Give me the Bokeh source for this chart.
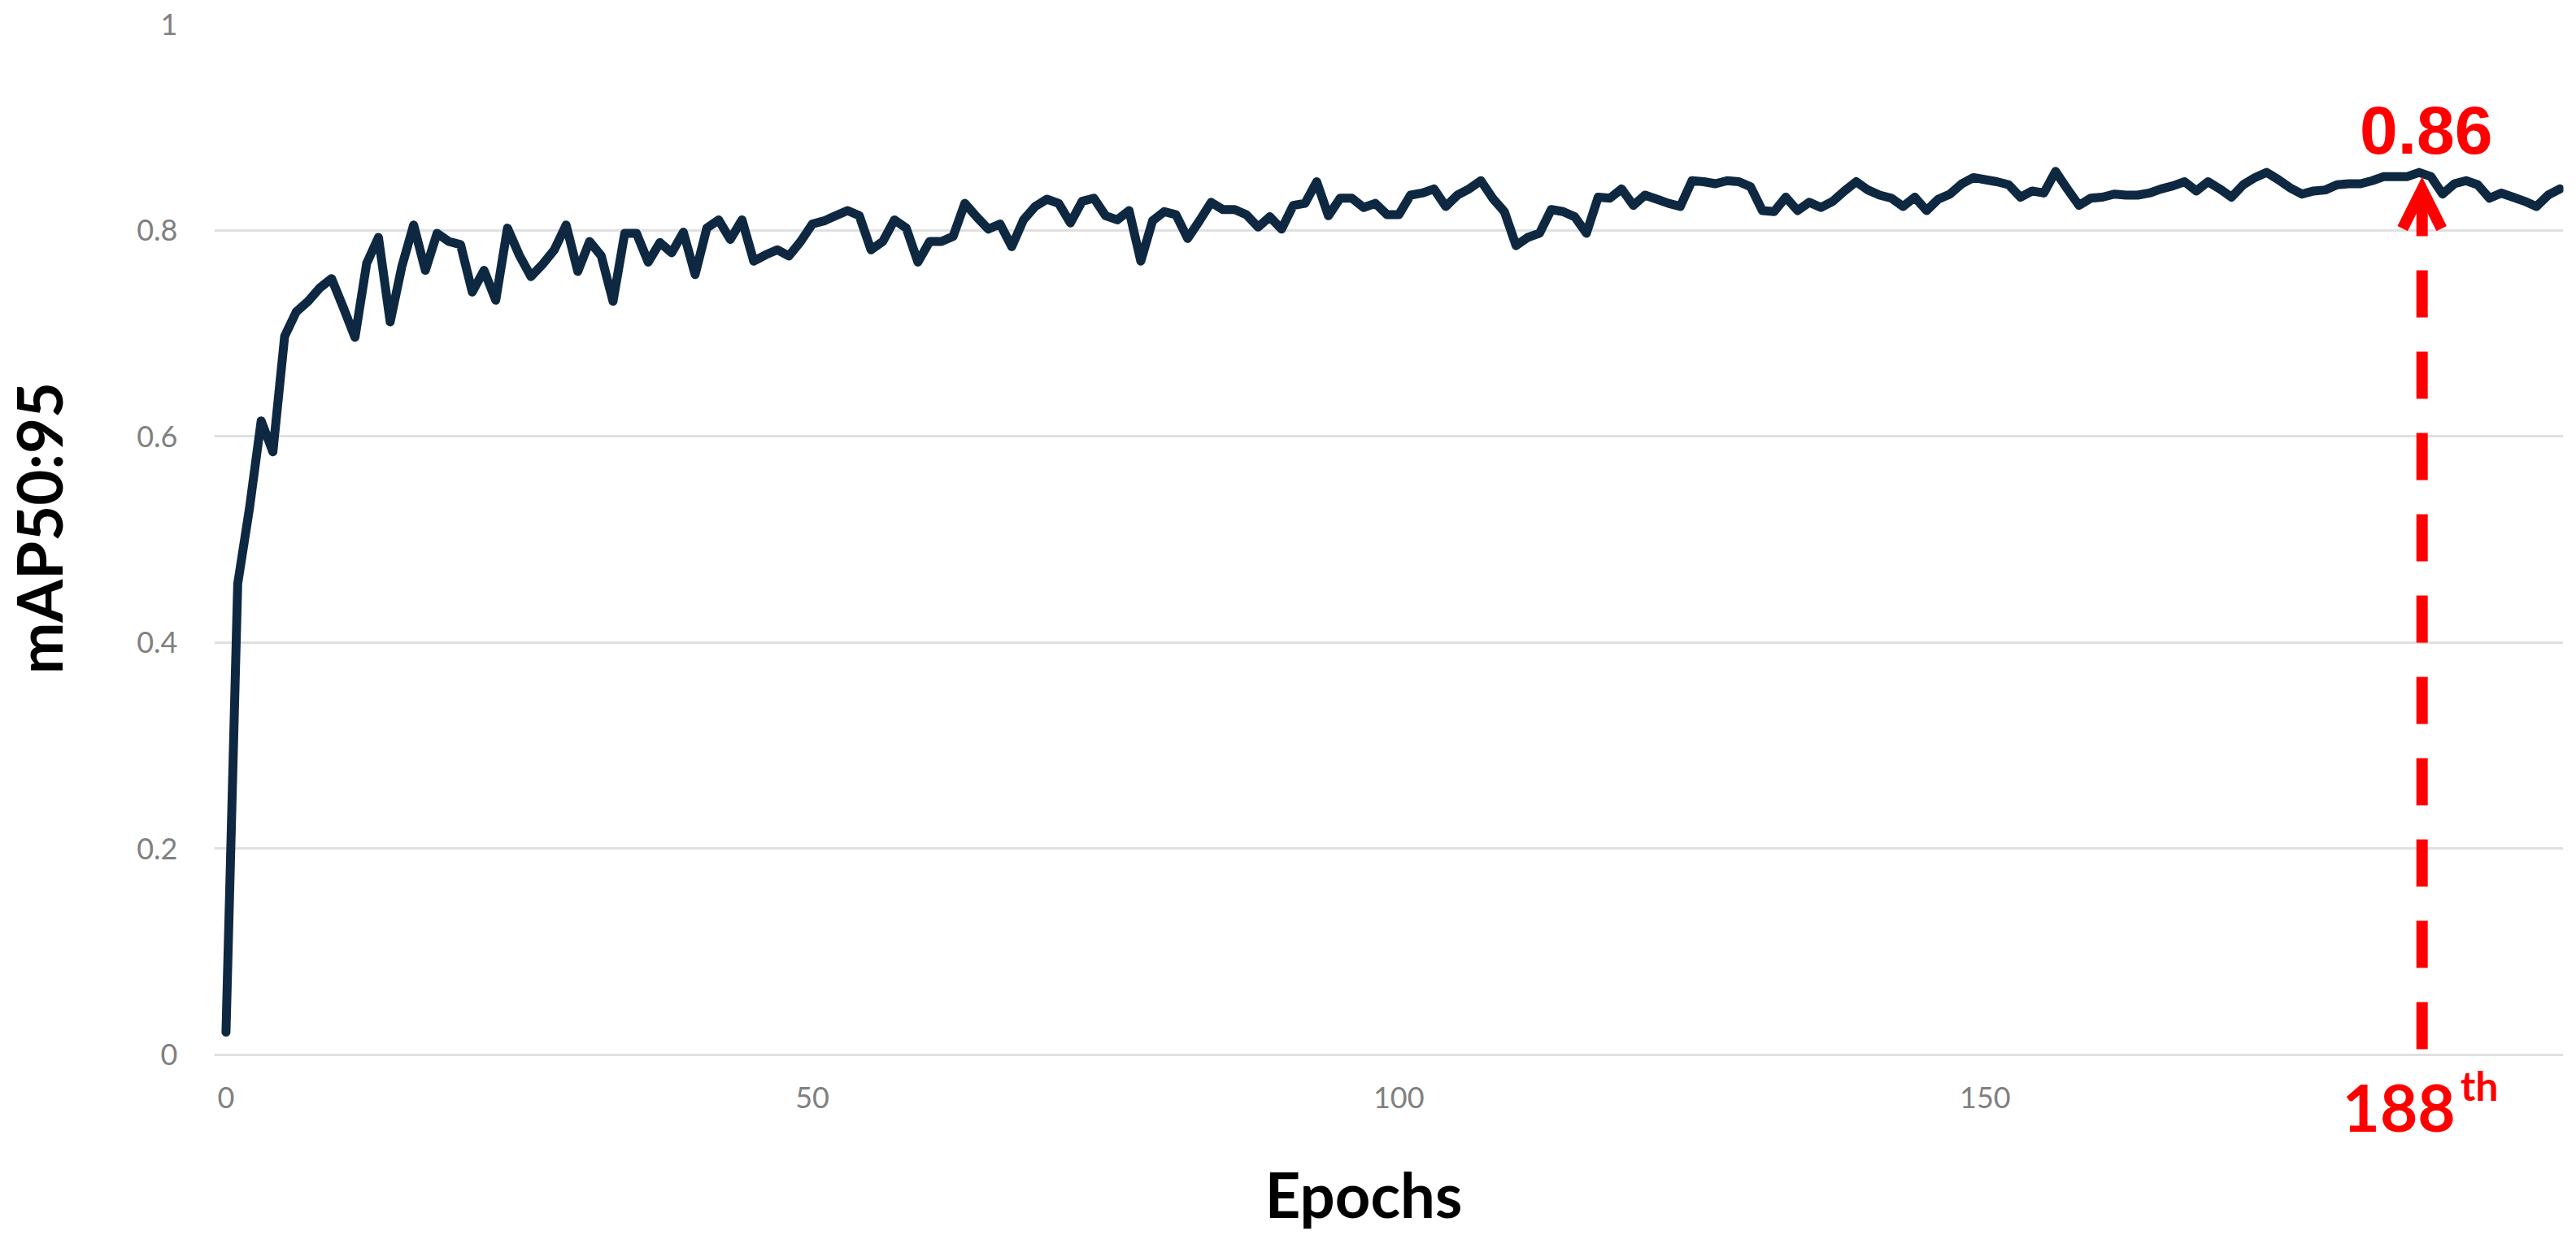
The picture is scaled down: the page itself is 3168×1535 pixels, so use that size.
import math
from bokeh.plotting import figure
from bokeh.layouts import row
from bokeh.models import FixedTicker, Label, Arrow, OpenHead, Range1d
from bokeh.embed import file_html
from bokeh.resources import INLINE

# ---------------- data ----------------
epochs = list(range(200))
map50_95 = [
    0.022, 0.457, 0.530, 0.615, 0.585, 0.697, 0.721, 0.731, 0.744, 0.753,
    0.725, 0.696, 0.768, 0.793, 0.711, 0.765, 0.805, 0.761, 0.797, 0.789,
    0.786, 0.740, 0.761, 0.732, 0.802, 0.776, 0.755, 0.767, 0.781, 0.805,
    0.760, 0.789, 0.775, 0.731, 0.797, 0.797, 0.769, 0.788, 0.778, 0.798,
    0.757, 0.802, 0.810, 0.791, 0.810, 0.770, 0.776, 0.781, 0.775, 0.789,
    0.806, 0.809, 0.814, 0.819, 0.814, 0.781, 0.789, 0.810, 0.802, 0.769,
    0.789, 0.789, 0.794, 0.826, 0.813, 0.801, 0.806, 0.784, 0.810, 0.823,
    0.830, 0.826, 0.807, 0.828, 0.831, 0.814, 0.810, 0.819, 0.770, 0.809,
    0.818, 0.815, 0.792, 0.809, 0.827, 0.820, 0.820, 0.815, 0.803, 0.813,
    0.801, 0.824, 0.826, 0.847, 0.814, 0.831, 0.831, 0.822, 0.826, 0.815,
    0.815, 0.834, 0.836, 0.840, 0.823, 0.834, 0.840, 0.848, 0.831, 0.818,
    0.785, 0.793, 0.797, 0.820, 0.818, 0.813, 0.797, 0.832, 0.831, 0.840,
    0.824, 0.834, 0.830, 0.826, 0.823, 0.848, 0.847, 0.845, 0.848, 0.847,
    0.842, 0.819, 0.818, 0.832, 0.819, 0.827, 0.822, 0.828, 0.838, 0.847,
    0.839, 0.834, 0.831, 0.823, 0.832, 0.819, 0.830, 0.835, 0.845, 0.851,
    0.849, 0.847, 0.844, 0.832, 0.838, 0.836, 0.857, 0.840, 0.824, 0.831,
    0.832, 0.835, 0.834, 0.834, 0.836, 0.840, 0.843, 0.847, 0.838, 0.847,
    0.840, 0.832, 0.844, 0.851, 0.856, 0.849, 0.841, 0.835, 0.838, 0.839,
    0.844, 0.845, 0.845, 0.848, 0.852, 0.852, 0.852, 0.856, 0.852, 0.835,
    0.845, 0.848, 0.844, 0.831, 0.836, 0.832, 0.828, 0.823, 0.834, 0.840,
]
x_ticks = [0, 50, 100, 150]
y_ticks = [0, 0.2, 0.4, 0.6, 0.8, 1.0]
y_tick_labels = ["0", "0.2", "0.4", "0.6", "0.8", "1"]
x_title = "Epochs"
y_title = "mAP50:95"
best_value_text = "0.86"
best_epoch_text = "188"
best_epoch_suffix = "th"
arrow_x = 187.25
arrow_top = 0.8394
arrow_bottom = 0.0055

FIG_H = 1530
LEFT_W = 120

# ---------------- y-title strip ----------------
left = figure(
    width=LEFT_W, height=FIG_H,
    x_range=Range1d(0, LEFT_W), y_range=Range1d(0, FIG_H),
    output_backend="svg", toolbar_location=None,
    x_axis_type=None, y_axis_type=None, min_border=0,
)
left.outline_line_color = None
left.grid.visible = False
left.add_layout(Label(
    x=47, y=FIG_H - 632, text=y_title, angle=math.pi / 2,
    text_align="center", text_baseline="middle",
    text_font="Lato", text_font_style="bold",
    text_font_size="76px", text_color="black",
))

# ---------------- main figure ----------------
# frame runs down to the bottom of the canvas so the annotation below the
# x axis stays inside it; the x axis is pinned at y = 0
p = figure(
    width=3160 - LEFT_W, height=FIG_H,
    x_range=Range1d(-1, 199.3), y_range=Range1d(-0.1838, 1),
    output_backend="svg", toolbar_location=None,
    min_border_left=263 - LEFT_W, min_border_right=8,
    min_border_top=29, min_border_bottom=0,
)
p.outline_line_color = None
p.background_fill_color = "white"
p.border_fill_color = "white"

p.xgrid.visible = False
p.ygrid.grid_line_color = "#e0e0e0"
p.ygrid.grid_line_width = 3

p.xaxis.ticker = FixedTicker(ticks=x_ticks)
p.yaxis.ticker = FixedTicker(ticks=y_ticks)
p.yaxis.major_label_overrides = dict(zip(y_ticks, y_tick_labels))
p.xaxis.fixed_location = 0
p.xaxis.bounds = (-1, 195)

for ax in (p.xaxis, p.yaxis):
    ax.axis_line_color = None
    ax.major_tick_line_color = None
    ax.minor_tick_line_color = None
    ax.major_label_text_font = "Lato"
    ax.major_label_text_font_size = "36px"
    ax.major_label_text_color = "#808080"
    ax.axis_label_text_font = "Lato"
    ax.axis_label_text_font_style = "bold"
    ax.axis_label_text_font_size = "76px"
    ax.axis_label_text_color = "black"

p.xaxis.axis_label = x_title
p.xaxis.major_label_standoff = 34
p.yaxis.major_label_standoff = 39
p.xaxis.axis_label_standoff = 56

p.line(epochs, map50_95, line_color="#0e2841", line_width=11,
       line_join="round", line_cap="round")

# ---------------- annotation ----------------
p.add_layout(Arrow(
    end=OpenHead(size=48, line_color="#ff0000", line_width=14, line_join="miter"),
    x_start=arrow_x, y_start=arrow_bottom, x_end=arrow_x, y_end=arrow_top,
    line_color="#ff0000", line_width=14, line_dash="58 42",
))
p.add_layout(Label(
    x=arrow_x, y=0.8971, text=best_value_text, x_offset=5,
    text_align="center", text_baseline="alphabetic",
    text_font="Liberation Sans", text_font_style="bold",
    text_font_size="84px", text_color="#ff0000",
))
p.add_layout(Label(
    x=arrow_x, y=-0.0516, text=best_epoch_text, x_offset=41,
    text_align="right", text_baseline="alphabetic",
    text_font="Lato", text_font_style="bold",
    text_font_size="80px", text_color="#ff0000",
))
p.add_layout(Label(
    x=arrow_x, y=-0.0296, text=best_epoch_suffix, x_offset=47,
    text_align="left", text_baseline="alphabetic",
    text_font="Lato", text_font_style="bold",
    text_font_size="50px", text_color="#ff0000",
))

open("out.html", "w").write(file_html(row(left, p), INLINE))
